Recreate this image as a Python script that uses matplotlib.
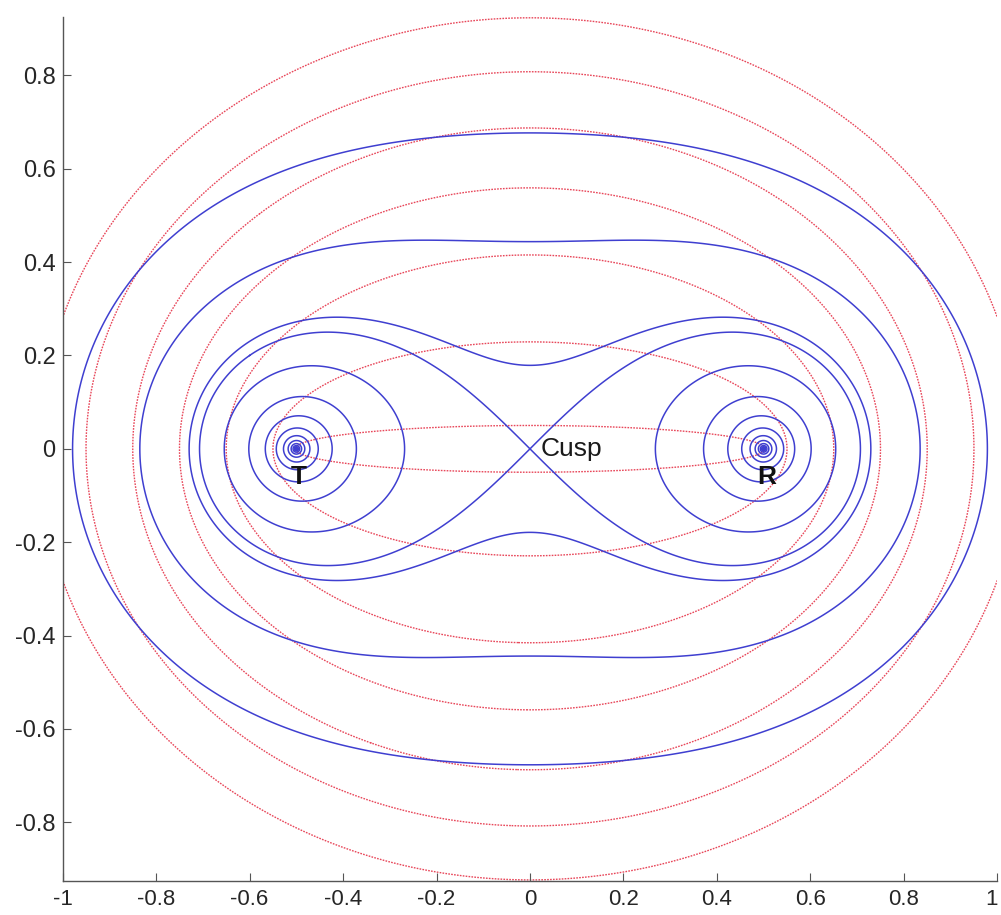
import numpy as np
import matplotlib
matplotlib.use("Agg")
import matplotlib.pyplot as plt

plt.rcParams['axes.unicode_minus'] = False

# transmitter / receiver positions (on the x axis)
tx_pos = -0.5
rx_pos = 0.5

# blue curves: constant product of ranges  R_T * R_R = level
product_levels = [0.0007, 0.00112, 0.00178, 0.00282, 0.00447, 0.00708, 0.0112,
                  0.0178, 0.0282, 0.0447, 0.0708, 0.112, 0.178, 0.282, 0.447, 0.708]
cusp_level = 0.25

# red dotted curves: constant range sum  R_T + R_R = level
sum_levels = [1.005, 1.1, 1.3, 1.5, 1.7, 1.9, 2.1]

xticks = [-1, -0.8, -0.6, -0.4, -0.2, 0, 0.2, 0.4, 0.6, 0.8, 1]
xtick_labels = ['-1', '-0.8', '-0.6', '-0.4', '-0.2', '0', '0.2', '0.4', '0.6', '0.8', '1']
yticks = [-0.8, -0.6, -0.4, -0.2, 0, 0.2, 0.4, 0.6, 0.8]
ytick_labels = ['-0.8', '-0.6', '-0.4', '-0.2', '0', '0.2', '0.4', '0.6', '0.8']

xlim = (-1, 1)
ylim = (-0.925, 0.925)

# grid for the contours
x = np.linspace(xlim[0], xlim[1], 2001)
y = np.linspace(ylim[0], ylim[1], 1851)
X, Y = np.meshgrid(x, y)
d_tx = np.hypot(X - tx_pos, Y)
d_rx = np.hypot(X - rx_pos, Y)

fig = plt.figure(figsize=(10.01, 9.15), dpi=100)
ax = fig.add_axes([0.0626, 0.0375, 0.9337, 0.9439])

ax.contour(X, Y, d_tx + d_rx, levels=sum_levels, colors='#e8475a',
           linewidths=1.0, linestyles=[(0, (1.2, 0.9))], zorder=1)
ax.contour(X, Y, d_tx * d_rx, levels=sorted(product_levels + [cusp_level]),
           colors='#3f3fd0', linewidths=1.1, linestyles='-', zorder=2)

ax.text(tx_pos + 0.005, -0.06, 'T', fontsize=19, fontweight='bold',
        ha='center', va='center', family='Liberation Sans', color='#111111')
ax.text(rx_pos + 0.007, -0.06, 'R', fontsize=19, fontweight='bold',
        ha='center', va='center', family='Liberation Sans', color='#111111')
ax.text(0.023, 0.0, 'Cusp', fontsize=19, ha='left', va='center',
        family='Liberation Sans', color='#1a1a1a')

ax.set_xlim(*xlim)
ax.set_ylim(*ylim)
ax.spines['top'].set_visible(False)
ax.spines['right'].set_visible(False)
for s in ['left', 'bottom']:
    ax.spines[s].set_color('#555555')
    ax.spines[s].set_linewidth(1.0)

ax.set_xticks(xticks)
ax.set_xticklabels(xtick_labels, family='Liberation Sans', fontsize=16, color='#262626')
ax.set_yticks(yticks)
ax.set_yticklabels(ytick_labels, family='Liberation Sans', fontsize=17, color='#262626')
ax.tick_params(direction='in', length=6, width=0.8, color='#555555')
ax.tick_params(axis='x', pad=6)
ax.tick_params(axis='y', pad=5)
# keep the last x label inside the figure
ax.get_xticklabels()[-1].set_horizontalalignment('right')

fig.savefig('out.png', dpi=100)
